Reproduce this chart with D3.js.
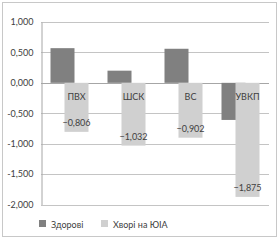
<!DOCTYPE html>
<html><head><meta charset="utf-8">
<script src="https://cdn.jsdelivr.net/npm/d3@7"></script>
<style>body{margin:0;background:#fff}svg{display:block}</style>
</head><body>
<script>
const categories = ["ПВХ", "ШСК", "ВС", "УВКП"];
const healthy = [0.57, 0.20, 0.56, -0.61];
const patients = [-0.806, -1.032, -0.902, -1.875];
const seriesNames = ["Здорові", "Хворі на ЮІА"];
const yTicks = [1, 0.5, 0, -0.5, -1, -1.5, -2];

(function () {
const W = 280, H = 240;
const font = "Lato, 'Open Sans', sans-serif";
const svg = d3.select("body").append("svg").attr("width", W).attr("height", H);

svg.append("rect").attr("x", 2.5).attr("y", 2.5).attr("width", 274).attr("height", 234)
  .attr("fill", "#fff").attr("stroke", "#c8c8c8");

const pL = 41, pR = 269, pT = 22, pB = 204.5;
const y = d3.scaleLinear().domain([-2, 1]).range([pB, pT]);
const x = d3.scaleBand().domain(categories).range([pL, pR]);

const fmt = v => d3.format(".3f")(v).replace(".", ",").replace("−", "-");

svg.append("g").selectAll("line").data(yTicks).join("line")
  .attr("x1", pL).attr("x2", pR)
  .attr("y1", d => Math.round(y(d)) + 0.5).attr("y2", d => Math.round(y(d)) + 0.5)
  .attr("stroke", d => d === 0 ? "#a6a6a6" : "#c4c4c4").attr("stroke-width", 1);

const yAxis = d3.axisLeft(y).tickValues(yTicks).tickFormat(fmt).tickSize(0).tickPadding(8);
const ga = svg.append("g").attr("transform", `translate(${pL + 0.5},0)`).call(yAxis);
ga.select(".domain").attr("stroke", "#a6a6a6");
ga.selectAll("text").attr("font-family", font).attr("font-size", 9).attr("fill", "#404040");

const bw = 24, shift = 14;
const cx = c => x(c) + x.bandwidth() / 2;
const darkX = c => cx(c) - (bw + shift) / 2;
const lightX = c => darkX(c) + shift;

svg.append("g").selectAll("rect").data(categories).join("rect")
  .attr("x", c => darkX(c)).attr("width", bw)
  .attr("y", (c, i) => y(Math.max(0, healthy[i])))
  .attr("height", (c, i) => Math.abs(y(healthy[i]) - y(0)))
  .attr("fill", "#808080");

svg.append("g").selectAll("rect").data(categories).join("rect")
  .attr("x", c => lightX(c)).attr("width", bw)
  .attr("y", (c, i) => y(Math.max(0, patients[i])))
  .attr("height", (c, i) => Math.abs(y(patients[i]) - y(0)))
  .attr("fill", "#d0d0d0");

svg.append("g").selectAll("text").data(categories).join("text")
  .attr("x", c => lightX(c) + bw / 2).attr("y", y(0) + 17)
  .attr("text-anchor", "middle").attr("font-family", font).attr("font-size", 9)
  .attr("fill", "#404040").text(c => c);

svg.append("g").selectAll("text").data(categories).join("text")
  .attr("x", c => lightX(c) + bw / 2).attr("y", (c, i) => y(patients[i]) - 6)
  .attr("text-anchor", "middle").attr("font-family", font).attr("font-size", 9)
  .attr("fill", "#404040").text((c, i) => d3.format(".3f")(patients[i]).replace(".", ","));

const legend = [{name: seriesNames[0], color: "#808080", x: 39}, {name: seriesNames[1], color: "#d0d0d0", x: 101}];
const lg = svg.append("g").selectAll("g").data(legend).join("g");
lg.append("rect").attr("x", d => d.x).attr("y", 220).attr("width", 7).attr("height", 7).attr("fill", d => d.color);
lg.append("text").attr("x", d => d.x + 12).attr("y", 227.5).attr("font-family", font).attr("font-size", 9)
  .attr("fill", "#404040").text(d => d.name);
})();
</script>
</body></html>
